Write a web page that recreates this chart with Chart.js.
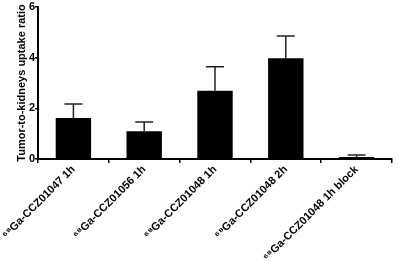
<!DOCTYPE html>
<html>
<head>
<meta charset="utf-8">
<script src="https://cdn.jsdelivr.net/npm/chart.js@4"></script>
<style>
  html, body { margin: 0; padding: 0; background: #fff; }
  #wrap { width: 398px; height: 262px; }
</style>
</head>
<body>
<div id="wrap"><canvas id="chart_1" width="398" height="262"></canvas></div>
<script>
// bar values and upper error (SD)
const groups = ['⁶⁸Ga-CCZ01047 1h', '⁶⁸Ga-CCZ01056 1h', '⁶⁸Ga-CCZ01048 1h', '⁶⁸Ga-CCZ01048 2h', '⁶⁸Ga-CCZ01048 1h block'];
const ratios = [1.62, 1.10, 2.69, 3.98, 0.08];
const errors = [0.55, 0.36, 0.95, 0.88, 0.08];
const yTicks = [0, 2, 4, 6];

const font = { family: 'Liberation Sans, Arial, sans-serif', weight: 'bold', size: 11 };

// draws the one-sided error bars on top of each bar
const errorBars = {
    id: 'errorBars',
    afterDatasetsDraw(chart) {
        let ctx = chart.ctx;
        let meta = chart.getDatasetMeta(0);
        let y = chart.scales.y;
        ctx.save();
        ctx.strokeStyle = '#222';
        ctx.lineWidth = 1.5;
        meta.data.forEach((bar, i) => {
            let top = y.getPixelForValue(ratios[i] + errors[i]);
            let base = y.getPixelForValue(ratios[i]);
            ctx.beginPath();
            ctx.moveTo(bar.x, base);
            ctx.lineTo(bar.x, top);
            ctx.moveTo(bar.x - 9, top);
            ctx.lineTo(bar.x + 9, top);
            ctx.stroke();
        });
        ctx.restore();
    }
};

new Chart('chart_1', {
    type: 'bar',
    data: {
        labels: groups,
        datasets: [{
            data: ratios,
            backgroundColor: '#000',
            borderWidth: 0,
            barPercentage: 0.5,
            categoryPercentage: 1.0,
        }],
    },
    options: {
        responsive: false,
        animation: { duration: 0 },
        layout: { padding: { top: 7, right: 6, left: 0, bottom: 0 } },
        plugins: { legend: { display: false }, tooltip: { enabled: false } },
        scales: {
            x: {
                grid: { display: true, drawOnChartArea: false, color: '#000', lineWidth: 1.5, tickLength: 4 },
                border: { color: '#000', width: 2 },
                ticks: { color: '#000', font: font, minRotation: 45, maxRotation: 45, padding: 0, autoSkip: false },
                afterFit(scale) { scale.height = 103; },
            },
            y: {
                min: 0,
                max: 6,
                afterBuildTicks(scale) { scale.ticks = yTicks.map(v => ({ value: v })); },
                grid: { display: true, drawOnChartArea: false, color: '#000', lineWidth: 1.5, tickLength: 3 },
                border: { color: '#000', width: 2 },
                ticks: { color: '#000', font: font, padding: 0 },
                title: {
                    display: true,
                    text: 'Tumor-to-kidneys uptake ratio',
                    color: '#000',
                    font: font,
                    padding: { top: 15, bottom: 0 },
                },
                afterFit(scale) { scale.width = 38; },
            },
        },
    },
    plugins: [errorBars],
});
</script>
</body>
</html>
